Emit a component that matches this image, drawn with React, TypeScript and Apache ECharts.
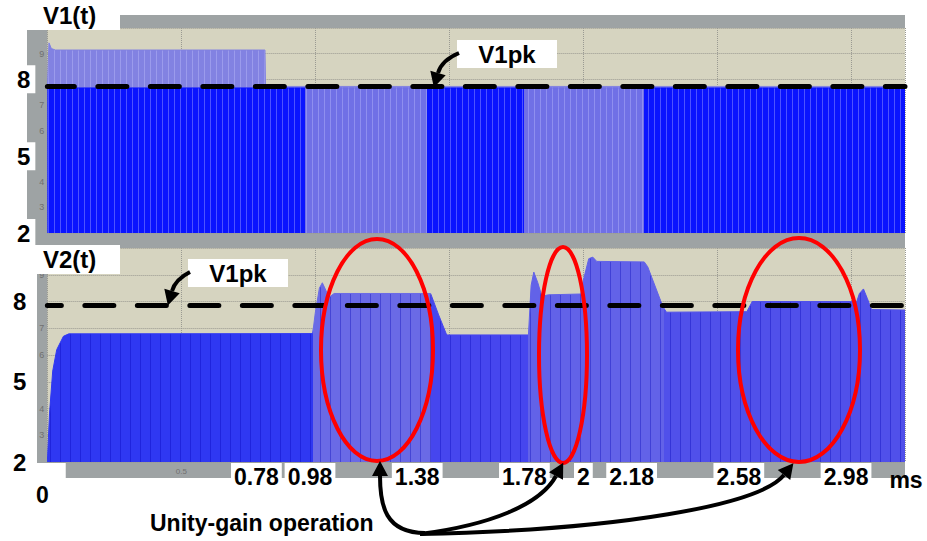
import React, { useEffect, useRef } from 'react';
import * as echarts from 'echarts';

// ---------- data ----------
const timeTicks = [0, 0.78, 0.98, 1.38, 1.78, 2, 2.18, 2.58, 2.98];
const timeGridTicks = 0.5;
const yMajorTicks = [2, 5, 8];
const v1pkTop = 7.73;
const v1pkBottom = 7.87;

// V1(t): upper envelope (peak of the oscillation)
const v1Peak: number[][] = [
  [0, 7.66], [0.006, 9.42], [0.015, 9.2], [0.03, 9.14], [0.812, 9.14], [0.814, 7.72], [3.2, 7.72],
];
// V1(t): dense part of the oscillation
const v1Dense: number[][] = [
  [0, 7.66], [0.963, 7.66], [1.416, 7.66], [1.78, 7.66], [2.227, 7.66], [3.2, 7.66],
];
// time ranges where V1 is drawn densely (dark)
const v1DarkRanges: number[][] = [[0, 0.963], [1.416, 1.78], [2.227, 3.21]];

// V2(t): upper envelope
const v2Envelope: number[][] = [
  [0, 2.0], [0.008, 3.8], [0.02, 5.4], [0.035, 6.2], [0.06, 6.7], [0.08, 6.79], [0.99, 6.8],
  [1.0, 7.6], [1.015, 8.5], [1.026, 8.7], [1.04, 8.4], [1.05, 8.15], [1.07, 8.3], [1.43, 8.3],
  [1.46, 7.5], [1.49, 6.75], [1.795, 6.75], [1.805, 8.6], [1.815, 9.1], [1.83, 8.7], [1.845, 8.2],
  [1.87, 8.25], [1.99, 8.28], [2.0, 8.8], [2.02, 9.6], [2.035, 9.66], [2.05, 9.5], [2.227, 9.48],
  [2.24, 9.3], [2.297, 7.8], [2.31, 7.6], [2.61, 7.62], [2.63, 8.0], [3.02, 8.0], [3.03, 8.3],
  [3.045, 8.47], [3.06, 8.1], [3.075, 7.7], [3.2, 7.68],
];
// time bands of V2 with different stripe density
const v2Bands: number[][] = [[0, 0.99], [0.99, 1.43], [1.43, 1.795], [1.795, 2.3], [2.3, 3.21]];

// ---------- styles ----------
const FONT = "'Liberation Sans', Arial, Helvetica, sans-serif";
const BEIGE = '#d6d4c0';
const GRAY = '#9ea3a4';
const DARK = '#0a14ff';
const LIGHT = '#7070e6';
const PEAK_LIGHT = '#8282e2';
const v2Colors = ['#2f38f2', '#6a6ae6', '#4646ee', '#6262e8', '#5050ea'];
const GRIDLINE = '#9a9a92';

const stripeLight = {
  symbol: 'rect', symbolSize: 1, dashArrayX: [1, 5], dashArrayY: [6, 0], rotation: 0,
  color: 'rgba(200,200,255,0.35)',
};
const stripeDark = {
  symbol: 'rect', symbolSize: 1, dashArrayX: [1, 9], dashArrayY: [6, 0], rotation: 0,
  color: 'rgba(0,0,180,0.35)',
};

function arrow(p0: number[], c1: number[], c2: number[], p3: number[], z = 60) {
  const dx = p3[0] - c2[0];
  const dy = p3[1] - c2[1];
  const L = Math.hypot(dx, dy) || 1;
  const ux = dx / L, uy = dy / L;
  const len = 15, half = 8;
  const tip = [p3[0] + ux * len, p3[1] + uy * len];
  const b1 = [p3[0] - uy * half, p3[1] + ux * half];
  const b2 = [p3[0] + uy * half, p3[1] - ux * half];
  return [
    {
      type: 'bezierCurve', z, silent: true,
      shape: { x1: p0[0], y1: p0[1], cpx1: c1[0], cpy1: c1[1], cpx2: c2[0], cpy2: c2[1], x2: p3[0], y2: p3[1] },
      style: { stroke: '#000', lineWidth: 4, fill: 'none' },
    },
    { type: 'polygon', z, silent: true, shape: { points: [tip, b1, b2] }, style: { fill: '#000' } },
  ];
}

function boxText(text: string, x: number, y: number, w: number, h: number, tx: number, align: string) {
  return [
    { type: 'rect', z: 50, silent: true, shape: { x, y, width: w, height: h }, style: { fill: '#fff' } },
    {
      type: 'text', z: 51, silent: true, x: tx, y: y + h / 2,
      style: { text, font: `bold 24px ${FONT}`, fill: '#000', align, verticalAlign: 'middle' },
    },
  ];
}

export default function App() {
  const ref = useRef<HTMLDivElement>(null);
  useEffect(() => {
    if (!ref.current) return;
    const chart = echarts.init(ref.current, undefined, { renderer: 'svg' });

    const smallY = (gridIndex: number) => ({
      type: 'value', gridIndex, min: 2, max: 10, interval: 1, position: 'left',
      axisLine: { show: false }, axisTick: { show: false },
      axisLabel: {
        fontSize: 9, color: '#707070', margin: 3, fontFamily: FONT,
        formatter: (v: number) => (v > 2 && v < 10 && v !== 5 && v !== 8 ? String(v) : ''),
      },
      splitLine: { show: true, lineStyle: { color: GRIDLINE, type: 'dotted', width: 1 } },
    });
    const bigY = (gridIndex: number, margin: number, padding: number[]) => ({
      type: 'value', gridIndex, min: 2, max: 10, position: 'left',
      axisLine: { show: false }, axisTick: { show: false }, splitLine: { show: false },
      axisLabel: {
        customValues: yMajorTicks, fontSize: 24, fontWeight: 'bold', color: '#000', fontFamily: FONT,
        backgroundColor: '#fff', padding, margin,
      },
    });

    const option: any = {
      animation: false,
      backgroundColor: '#fff',
      grid: [
        { left: 44, top: 28, right: 22, height: 205, show: true, backgroundColor: BEIGE, borderWidth: 0 },
        { left: 44, top: 248, right: 22, height: 214, show: true, backgroundColor: BEIGE, borderWidth: 0 },
      ],
      xAxis: [
        {
          type: 'value', gridIndex: 0, min: 0, max: 3.2, interval: timeGridTicks,
          axisLine: { show: false }, axisTick: { show: false }, axisLabel: { show: false },
          splitLine: { show: true, lineStyle: { color: GRIDLINE, type: 'dotted', width: 1 } },
        },
        {
          type: 'value', gridIndex: 1, min: 0, max: 3.2, interval: timeGridTicks,
          axisLine: { show: false }, axisTick: { show: false },
          axisLabel: {
            fontSize: 8, color: '#707070', margin: 5, fontFamily: FONT,
            formatter: (v: number) => (v === 0.5 ? '0.5' : ''),
          },
          splitLine: { show: true, lineStyle: { color: GRIDLINE, type: 'dotted', width: 1 } },
        },
        {
          type: 'value', gridIndex: 1, min: 0, max: 3.2, position: 'bottom',
          axisLine: { show: false }, axisTick: { show: false }, splitLine: { show: false },
          axisLabel: {
            customValues: timeTicks, fontSize: 23, fontWeight: 'bold', color: '#000', fontFamily: FONT,
            backgroundColor: '#fff', padding: [2, 3, 2, 3], margin: 1,
            formatter: (v: number) => (v === 0 ? '{z|0}' : String(v)),
            rich: {
              z: { fontSize: 23, fontWeight: 'bold', color: '#000', fontFamily: FONT, padding: [18, 14, 0, 4] },
            },
          },
        },
      ],
      yAxis: [
        smallY(0),
        bigY(0, 12, [2, 5, 2, 14]),
        smallY(1),
        bigY(1, 17, [2, 4, 2, 10]),
      ],
      visualMap: [
        {
          type: 'piecewise', show: false, seriesIndex: 1, dimension: 0,
          pieces: v1DarkRanges.map(([a, b]) => ({ gte: a, lt: b, color: DARK })),
          outOfRange: { color: LIGHT },
        },
        {
          type: 'piecewise', show: false, seriesIndex: 2, dimension: 0,
          pieces: v2Bands.map(([a, b], i) => ({ gte: a, lt: b, color: v2Colors[i] })),
        },
      ],
      series: [
        {
          name: 'V1 peak', type: 'line', xAxisIndex: 0, yAxisIndex: 0, data: v1Peak,
          showSymbol: false, symbol: 'none', color: PEAK_LIGHT,
          lineStyle: { width: 1, color: PEAK_LIGHT, decal: stripeLight },
          itemStyle: { decal: stripeLight },
          areaStyle: { origin: 'start', opacity: 1, color: PEAK_LIGHT },
        },
        {
          name: 'V1(t)', type: 'line', xAxisIndex: 0, yAxisIndex: 0, data: v1Dense,
          showSymbol: false, symbol: 'none',
          lineStyle: { width: 1, decal: stripeLight }, itemStyle: { decal: stripeLight },
          areaStyle: { origin: 'start', opacity: 1 },
          markLine: {
            silent: true, symbol: 'none', label: { show: false },
            lineStyle: { color: '#000', width: 5, type: [29, 23.5], dashOffset: 2, cap: 'round' },
            data: [{ yAxis: v1pkTop }],
          },
        },
        {
          name: 'V2(t)', type: 'line', xAxisIndex: 1, yAxisIndex: 2, data: v2Envelope,
          showSymbol: false, symbol: 'none',
          lineStyle: { width: 1, decal: stripeDark }, itemStyle: { decal: stripeDark },
          areaStyle: { origin: 'start', opacity: 1 },
          markLine: {
            silent: true, symbol: 'none', label: { show: false },
            lineStyle: { color: '#000', width: 5, type: [29, 23.5], dashOffset: 15, cap: 'round' },
            data: [{ yAxis: v1pkBottom }],
          },
        },
      ],
      graphic: [
        { type: 'rect', z: -10, silent: true, shape: { x: 27, y: 15, width: 878, height: 232 }, style: { fill: GRAY } },
        { type: 'rect', z: -10, silent: true, shape: { x: 37, y: 233, width: 868, height: 245 }, style: { fill: GRAY } },
        ...boxText('V1(t)', 0, 0, 120, 30, 43, 'left'),
        ...boxText('V2(t)', 0, 245, 120, 29, 43, 'left'),
        ...boxText('V1pk', 457, 40, 100, 28, 507, 'center'),
        ...boxText('V1pk', 188, 259, 100, 28, 238, 'center'),
        ...arrow([459, 53], [447, 58], [440, 66], [438, 73]),
        ...arrow([190, 272], [180, 277], [174, 284], [172, 291]),
        { type: 'ellipse', z: 55, silent: true, shape: { cx: 377, cy: 350, rx: 56, ry: 111 }, style: { stroke: '#ff0000', lineWidth: 4, fill: 'none' } },
        { type: 'ellipse', z: 55, silent: true, shape: { cx: 563, cy: 355, rx: 24, ry: 108 }, style: { stroke: '#ff0000', lineWidth: 4, fill: 'none' } },
        { type: 'ellipse', z: 55, silent: true, shape: { cx: 799, cy: 350, rx: 61, ry: 112 }, style: { stroke: '#ff0000', lineWidth: 4, fill: 'none' } },
        ...arrow([425, 533], [385, 533], [380, 505], [380, 476]),
        ...arrow([420, 534], [490, 525], [540, 505], [556, 476]),
        ...arrow([420, 534], [620, 530], [760, 505], [784, 475]),
        {
          type: 'text', z: 60, silent: true, x: 150, y: 523,
          style: { text: 'Unity-gain operation', font: `bold 23px ${FONT}`, fill: '#000', align: 'left', verticalAlign: 'middle' },
        },
        {
          type: 'text', z: 60, silent: true, x: 906, y: 480,
          style: { text: 'ms', font: `bold 23px ${FONT}`, fill: '#000', align: 'center', verticalAlign: 'middle' },
        },
      ],
    };
    chart.setOption(option);
    return () => chart.dispose();
  }, []);
  return (
    <div
      ref={ref}
      style={{ position: 'absolute', left: 0, top: 0, width: 927, height: 541, background: '#fff' }}
    />
  );
}
